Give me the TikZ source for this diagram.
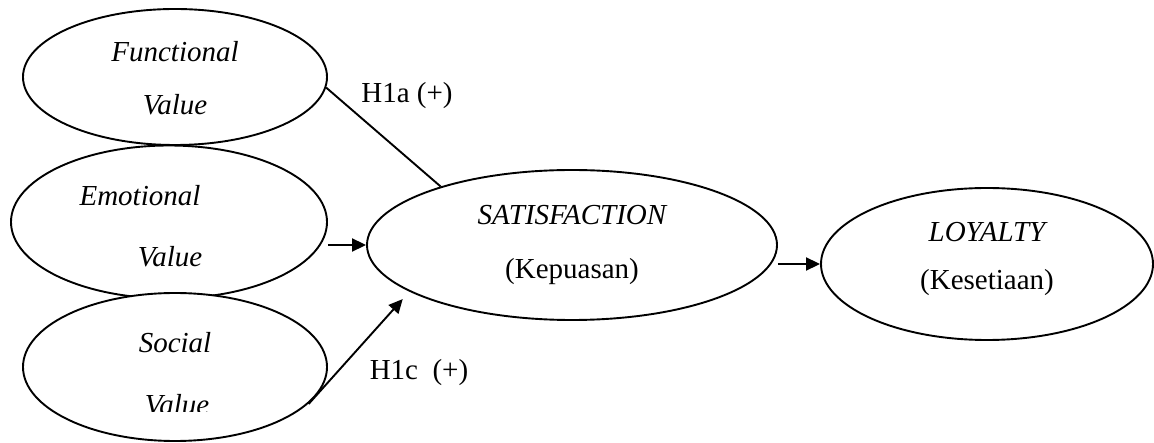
\documentclass[tikz,border=0pt]{standalone}
\usepackage{fontspec}
\setmainfont{Liberation Serif}
\usetikzlibrary{shapes.geometric,arrows.meta}
\tikzset{
  oval/.style={draw,ellipse,fill=white,line width=1.9pt,inner sep=0pt},
  lbl/.style={anchor=base,inner sep=0pt,font=\fontsize{29}{35}\selectfont},
  conn/.style={line width=1.9pt},
  arr/.style={conn,-{Triangle[length=14pt,width=13pt]}}
}
\begin{document}
\begin{tikzpicture}[x=1pt,y=-1pt]
\useasboundingbox (0,0) rectangle (1154,443);
% ellipses
\node[oval,minimum width=304pt,minimum height=136pt] (F) at (175,77) {};
\node[oval,minimum width=316pt,minimum height=153pt] (E) at (169,222) {};
\node[oval,minimum width=304pt,minimum height=148pt] (So) at (175,367) {};
\node[oval,minimum width=410pt,minimum height=150pt] (S) at (572,245) {};
\node[oval,minimum width=332pt,minimum height=152pt] (L) at (987,264) {};
% texts
\node[lbl] (tF1) at (175,62) {\itshape Functional};
\node[lbl] (tF2) at (175,115) {\itshape Value};
\node[lbl] (tE1) at (140,206) {\itshape Emotional};
\node[lbl] (tE2) at (170,267) {\itshape Value};
\node[lbl] (tS1) at (175,353) {\itshape Social};
\begin{scope}
\clip (0,0) rectangle (1154,412);
\node[lbl] (tS2) at (177,414) {\itshape Value};
\end{scope}
\node[lbl] (tSa1) at (572,225) {\itshape SATISFACTION};
\node[lbl] (tSa2) at (572,279) {(Kepuasan)};
\node[lbl] (tL1) at (987,242) {\itshape LOYALTY};
\node[lbl] (tL2) at (987,290) {(Kesetiaan)};
\node[lbl] (h1a) at (407,103) {H1a (+)};
\node[lbl] (h1c) at (419,380) {H1c\ \ (+)};
% connectors
\draw[conn] (F.-4) -- (S.156);
\draw[arr] (E.east |- S.west) -- (S.west);
\draw[arr,shorten <=-4pt,shorten >=10pt] (So.-14) -- (S.196);
\draw[arr] (S.east |- L.west) -- (L.west);
\end{tikzpicture}
\end{document}
